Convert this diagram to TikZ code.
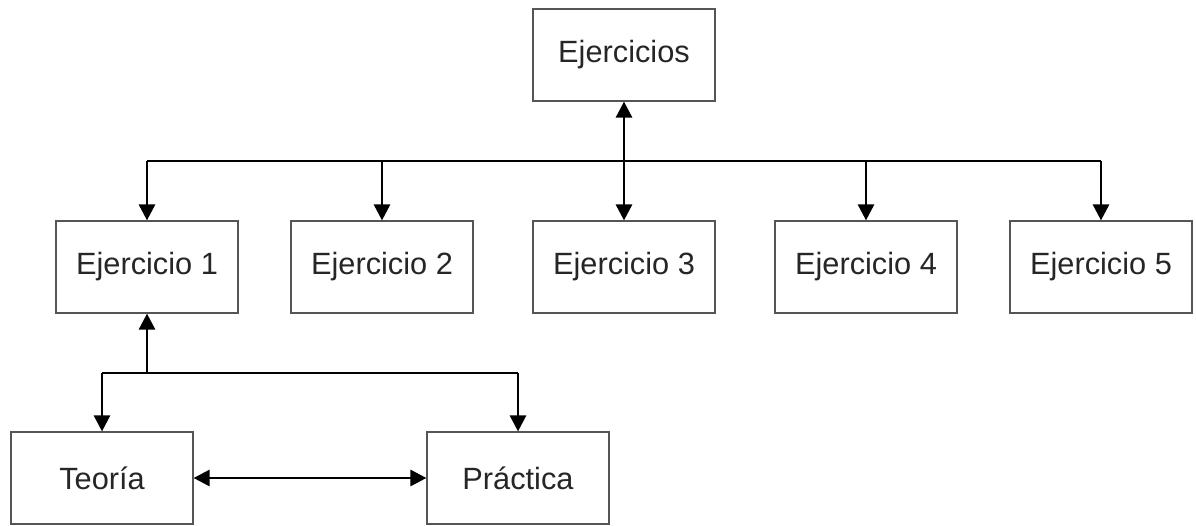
\documentclass[tikz,border=0pt]{standalone}
\usepackage{fontspec}
\setmainfont{Liberation Sans}
\usetikzlibrary{arrows.meta}
\definecolor{boxline}{RGB}{85,85,85}
\begin{document}
\begin{tikzpicture}[x=0.02cm,y=-0.02cm,
  box/.style={draw=boxline, line width=1.1pt, fill=white, minimum width=3.63cm, minimum height=1.83cm, inner sep=0pt, font=\fontsize{17.5}{21}\selectfont, text=black!85},
  conn/.style={draw=black, line width=0.9pt},
  tip/.style={-{Triangle[width=0.33cm,length=0.32cm]}},
  tips/.style={{Triangle[width=0.33cm,length=0.32cm]}-{Triangle[width=0.33cm,length=0.32cm]}}]
\useasboundingbox[fill=white] (0,0) rectangle (1196,525);
\node[box] (top) at (624,55) {Ejercicios};
\node[box] (e1) at (147,267) {Ejercicio 1};
\node[box] (e2) at (382,267) {Ejercicio 2};
\node[box] (e3) at (624,267) {Ejercicio 3};
\node[box] (e4) at (866,267) {Ejercicio 4};
\node[box] (e5) at (1101,267) {Ejercicio 5};
\node[box] (teo) at (102,478) {Teoría};
\node[box] (pra) at (518,478) {Práctica};
\coordinate (bus) at (0,161);
\coordinate (br) at (0,373);
% top level
\draw[conn,tips] (top.south) -- (e3.north);
\draw[conn] (e1.north |- bus) -- (e5.north |- bus);
\draw[conn,tip] (e1.north |- bus) -- (e1.north);
\draw[conn,tip] (e2.north |- bus) -- (e2.north);
\draw[conn,tip] (e4.north |- bus) -- (e4.north);
\draw[conn,tip] (e5.north |- bus) -- (e5.north);
% bottom level
\draw[conn,tip] (e1.south |- br) -- (e1.south);
\draw[conn] (teo.north |- br) -- (pra.north |- br);
\draw[conn,tip] (teo.north |- br) -- (teo.north);
\draw[conn,tip] (pra.north |- br) -- (pra.north);
\draw[conn,tips] (teo.east) -- (pra.west);
\end{tikzpicture}
\end{document}
